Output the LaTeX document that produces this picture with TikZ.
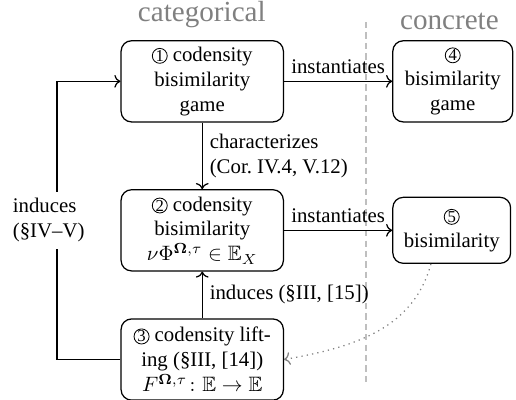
\documentclass[tikz,border=0pt]{standalone}
\usepackage{amsmath,amssymb}
\usepackage[no-math]{fontspec}
\setmainfont{Liberation Serif}
\usetikzlibrary{positioning, arrows.meta}
\tikzset{
  stage/.style={draw, semithick, rounded corners=5pt, align=center, minimum height=39pt, minimum width=78pt, inner sep=1pt},
  header/.style={text=gray, font=\fontsize{14}{16}\selectfont},
  link/.style={->, semithick},
  divider/.style={gray!50, line width=1pt, dash pattern=on 3pt off 2pt},
  digit/.style={circle, draw, thin, minimum width=0pt, minimum height=0pt, inner sep=0.2pt, font=\footnotesize},
}
\newcommand{\circnum}[1]{\tikz[baseline=(n.base)] \node[digit] (n) {#1};}

\begin{document}
\begin{tikzpicture}[node distance=32pt]
    \useasboundingbox (0,0) rectangle (248pt,-192pt);
    \coordinate (top) at (175.7pt,-10.6pt);
    \coordinate (bot) at (175.7pt,-184.8pt);
    \draw[divider] (top) -- (bot);
    \node[header] (cat) at (97pt,-7pt) {categorical};
    \node[header] (con) at (216pt,-10.5pt) {concrete};
    \node[stage] (game) at (97.2pt,-39.1pt) {\circnum{1} codensity\\bisimilarity\\game};
    \node[stage, below=of game] (bisim) {\circnum{2} codensity\\bisimilarity\\$\nu\Phi^{\boldsymbol{\Omega},\tau}\in\mathbb{E}_X$};
    \node[stage, below=22.5pt of bisim] (lift) {\circnum{3} codensity lift-\\ing (\S III, [14])\\$F^{\boldsymbol{\Omega},\tau}\colon\mathbb{E}\to\mathbb{E}$};
    \node[stage, minimum width=57.6pt, right=52pt of game] (cgame) {\circnum{4}\\bisimilarity\\game};
    \node[stage, minimum width=56.6pt, minimum height=31.7pt, right=52pt of bisim] (cbisim) {\circnum{5}\\bisimilarity};
    \coordinate (lp) at (27.4pt,0);
    \draw[link] (game) -- node[above] {instantiates} (cgame);
    \draw[link] (bisim) -- node[above] {instantiates} (cbisim);
    \draw[link] (game) -- node[right, align=left] {characterizes\\(Cor.~IV.4, V.12)} (bisim);
    \draw[link] (lift) -- node[right] {induces (\S III, [15])} (bisim);
    \draw[link] (lift.west) -- (lift.west -| lp) -- node[fill=white, align=left, xshift=-4pt] {induces\\(\S IV--V)} (game.west -| lp) -- (game.west);
    \draw[->, dotted, gray, semithick] ([xshift=-10pt]cbisim.south) to[out=-105, in=10] (lift.east);
\end{tikzpicture}
\end{document}
